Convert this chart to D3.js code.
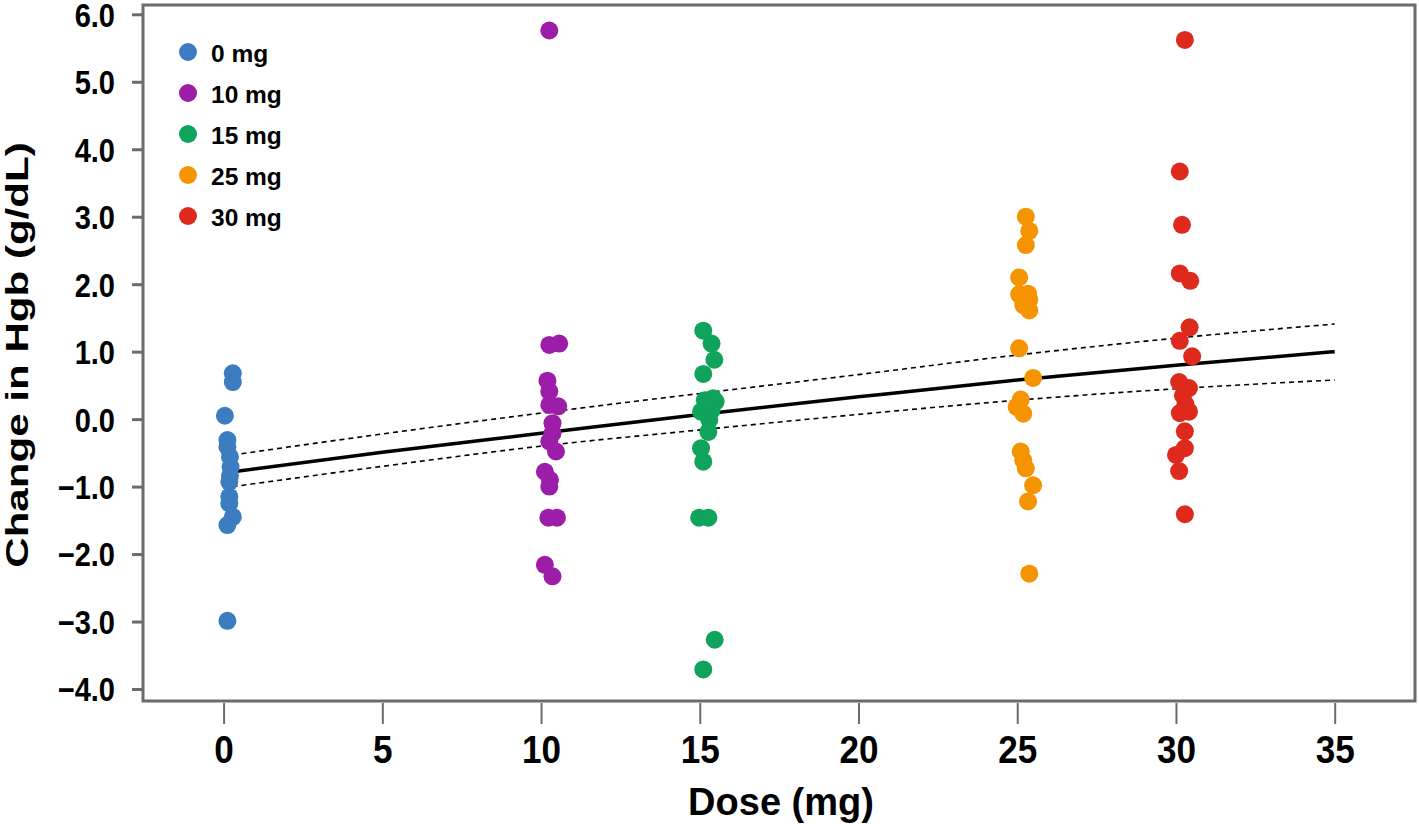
<!DOCTYPE html>
<html><head><meta charset="utf-8">
<script src="https://cdn.jsdelivr.net/npm/d3@7"></script>
<style>
html,body{margin:0;padding:0;background:#fff;}
svg text{font-family:"Liberation Sans",Arial,sans-serif;font-weight:bold;fill:#000;}
</style></head>
<body><svg id="chart" width="1419" height="824"></svg>
<script>
// ---- data ----
const groups = ["0 mg","10 mg","15 mg","25 mg","30 mg"];
const groupColors = ["#3b7dc0","#9c1da8","#0fa35b","#f59300","#de2a1c"];
// jittered doses (mg) and change in Hgb (g/dL)
const dose0   = [0.29,0.29,0.04,0.12,0.12,0.20,0.22,0.20,0.18,0.18,0.18,0.29,0.12,0.12];
const hgb0    = [0.68,0.55,0.05,-0.31,-0.41,-0.56,-0.71,-0.84,-0.93,-1.15,-1.25,-1.45,-1.57,-2.99];
const dose10  = [10.26,10.26,10.57,10.20,10.26,10.26,10.54,10.36,10.36,10.26,10.47,10.12,10.28,10.26,10.23,10.50,10.12,10.36];
const hgb10   = [5.76,1.10,1.12,0.57,0.41,0.21,0.19,-0.06,-0.21,-0.33,-0.48,-0.78,-0.90,-1.00,-1.46,-1.46,-2.16,-2.33];
const dose15  = [15.11,15.37,15.46,15.11,15.42,15.16,15.04,15.37,15.30,15.27,15.04,15.11,14.98,15.27,15.47,15.11,15.50,15.20];
const hgb15   = [1.31,1.12,0.88,0.67,0.31,0.28,0.11,0.13,-0.01,-0.19,-0.43,-0.63,-1.46,-1.46,-3.27,-3.71,0.26,0.20];
const dose25  = [25.27,25.38,25.27,25.06,25.06,25.34,25.38,25.19,25.38,25.06,25.50,25.11,24.98,25.19,25.11,25.19,25.27,25.50,25.34,25.38];
const hgb25   = [3.00,2.79,2.58,2.10,1.85,1.86,1.77,1.69,1.61,1.05,0.61,0.29,0.18,0.08,-0.48,-0.61,-0.73,-0.98,-1.22,-2.29];
const dose30  = [30.28,30.12,30.19,30.12,30.45,30.43,30.12,30.51,30.10,30.41,30.22,30.41,30.12,30.28,30.28,30.00,30.10,30.28,30.30];
const hgb30   = [5.62,3.67,2.88,2.16,2.05,1.36,1.16,0.93,0.55,0.46,0.35,0.11,0.09,-0.18,-0.43,-0.53,-0.77,-1.41,0.22];
// fitted model and 95% CI
const fitDose  = [0,5,10,15,20,25,30,35];
const fitMean  = [-0.80,-0.49,-0.21,0.07,0.33,0.58,0.80,1.00];
const fitUpper = [-0.55,-0.22,0.09,0.38,0.66,0.95,1.20,1.41];
const fitLower = [-1.02,-0.70,-0.40,-0.16,0.07,0.28,0.45,0.58];
const xTicks = [0,5,10,15,20,25,30,35];
const yTicks = [-4,-3,-2,-1,0,1,2,3,4,5,6];

const doseArr = [dose0,dose10,dose15,dose25,dose30];
const hgbArr  = [hgb0,hgb10,hgb15,hgb25,hgb30];

// ---- layout ----
const svg = d3.select("#chart");
const L = 143, R = 1415, T = 5, B = 701;
const x = d3.scaleLinear().domain([0,35]).range([223.6,1334.7]);
const y = d3.scaleLinear().domain([-4,6]).range([689,14.3]);

const axisColor = "#6b6b6b";

// frame
svg.append("rect").attr("x",L).attr("y",T).attr("width",R-L).attr("height",B-T)
  .attr("fill","none").attr("stroke",axisColor).attr("stroke-width",3);

// y axis
const yAxis = svg.append("g").attr("transform",`translate(${L},0)`)
  .call(d3.axisLeft(y).tickValues(yTicks).tickSize(11).tickPadding(11)
        .tickFormat(d => (d<0?"\u2212":"") + Math.abs(d).toFixed(1)));
yAxis.select(".domain").remove();
yAxis.selectAll(".tick line").attr("stroke",axisColor).attr("stroke-width",3);
yAxis.selectAll(".tick text").style("font-size","33px")
  .attr("x",0).attr("dy","0.36em").attr("transform","translate(-28,0) scale(0.88,1)");

// x axis
const xAxis = svg.append("g").attr("transform",`translate(0,${B+2})`)
  .call(d3.axisBottom(x).tickValues(xTicks).tickSize(21).tickPadding(14));
xAxis.select(".domain").remove();
xAxis.selectAll(".tick line").attr("stroke",axisColor).attr("stroke-width",2);
xAxis.selectAll(".tick text").style("font-size","39px")
  .attr("y",0).attr("dy",0).attr("transform","translate(0,60) scale(0.9,1)");

// axis titles
svg.append("text").attr("x",781).attr("y",815).attr("text-anchor","middle")
  .style("font-size","38px").text("Dose (mg)");
svg.append("text").attr("transform","translate(28,355) rotate(-90) scale(1.38,1)").attr("text-anchor","middle")
  .style("font-size","30.5px").text("Change in Hgb (g/dL)");

// fitted lines
const line = d3.line().x((d,i)=>x(fitDose[i])).y(d=>y(d)).curve(d3.curveMonotoneX);
svg.append("path").attr("d",line(fitUpper)).attr("fill","none").attr("stroke","#000")
  .attr("stroke-width",1.6).attr("stroke-dasharray","5,4");
svg.append("path").attr("d",line(fitLower)).attr("fill","none").attr("stroke","#000")
  .attr("stroke-width",1.6).attr("stroke-dasharray","5,4");
svg.append("path").attr("d",line(fitMean)).attr("fill","none").attr("stroke","#000")
  .attr("stroke-width",3.5);

// points
groups.forEach((g,gi)=>{
  svg.append("g").selectAll("circle").data(hgbArr[gi]).join("circle")
    .attr("cx",(d,i)=>x(doseArr[gi][i])).attr("cy",d=>y(d)).attr("r",9)
    .attr("fill",groupColors[gi]);
});

// legend
const leg = svg.append("g");
groups.forEach((g,i)=>{
  const cy = 52 + i*41;
  leg.append("circle").attr("cx",188).attr("cy",cy).attr("r",9).attr("fill",groupColors[i]);
  leg.append("text").attr("x",211).attr("y",cy+10).style("font-size","24.5px").text(g);
});
</script></body></html>
